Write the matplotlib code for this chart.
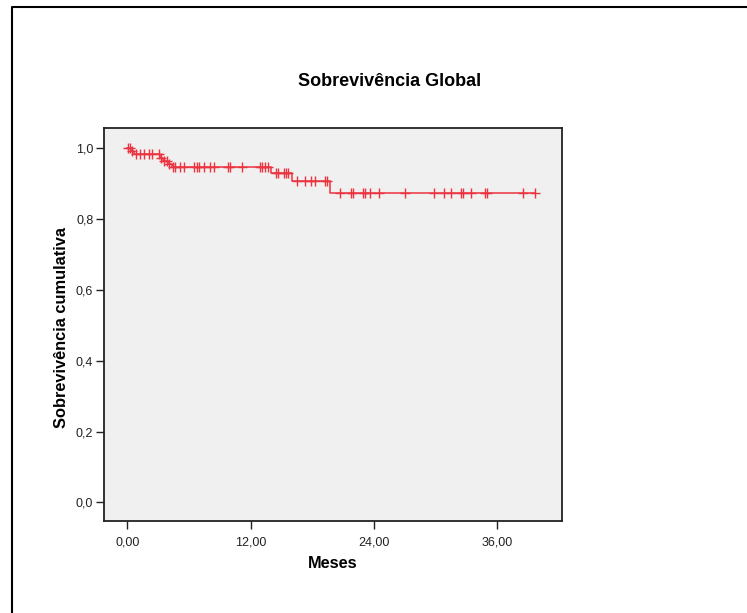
import numpy as np
import matplotlib
matplotlib.use('Agg')
import matplotlib.pyplot as plt
from matplotlib.lines import Line2D

plt.rcParams['font.family'] = ['Liberation Sans', 'DejaVu Sans']

# %% Data (Kaplan-Meier, global survival)
# times where the survival drops, and the level reached after each drop
event_times = [0.0, 0.43, 0.65, 3.15, 3.47, 3.96, 4.35, 13.95, 15.99, 19.68]
surv_levels = [1.0, 0.991, 0.982, 0.973, 0.964, 0.955, 0.946, 0.931, 0.908, 0.872]
last_time = 39.62

# censored observations (months)
censor_times = [0.1, 0.25, 0.5,
                0.8, 1.2, 1.6, 2.1, 2.4, 3.05,
                3.3, 3.6, 3.85, 4.1,
                4.45, 4.6, 5.16, 5.48, 6.45, 6.78, 6.94, 7.42, 8.07, 8.39,
                9.84, 10.0, 11.14, 12.92, 13.14, 13.4, 13.73,
                14.5, 14.7, 15.2, 15.4, 15.6,
                16.5, 17.3, 17.9, 18.3, 19.2, 19.45,
                20.68, 21.72, 21.91, 22.9, 23.1, 23.59, 24.46, 27.05,
                29.88, 30.8, 31.5, 32.48, 32.7, 33.4, 34.75, 34.98,
                38.45, 39.62]

xticks = [0, 12, 24, 36]
xtick_labels = ['0,00', '12,00', '24,00', '36,00']
yticks = [0.0, 0.2, 0.4, 0.6, 0.8, 1.0]
ytick_labels = ['0,0', '0,2', '0,4', '0,6', '0,8', '1,0']

title = 'Sobrevivência Global'
xlabel = 'Meses'
ylabel = 'Sobrevivência cumulativa'

# %% Figure
W, H = 747, 613
fig = plt.figure(figsize=(W / 100, H / 100), dpi=100)
fig.patch.set_facecolor('white')

ax_l, ax_r, ax_t, ax_b = 103.5, 562.0, 127.7, 521.2
ax = fig.add_axes([ax_l / W, 1 - ax_b / H, (ax_r - ax_l) / W, (ax_b - ax_t) / H])
ax.set_facecolor('#F0F0F0')

red = '#EC3340'
xs = np.array(event_times + [last_time])
ys = np.array(surv_levels + [surv_levels[-1]])
ax.step(xs, ys, where='post', color=red, lw=1.1, zorder=3)

ct = np.array(censor_times)
idx = np.searchsorted(np.array(event_times), ct, side='right') - 1
cy = np.array(surv_levels)[idx]
ax.plot(ct, cy, linestyle='none', marker='+', markersize=7, markeredgewidth=1.0,
        color=red, zorder=4)

ax.set_xlim(-2.32, 42.29)
ax.set_ylim(-0.053, 1.0576)
ax.set_xticks(xticks)
ax.set_xticklabels(xtick_labels)
ax.set_yticks(yticks)
ax.set_yticklabels(ytick_labels)

ax.tick_params(axis='both', direction='out', length=5.5, width=1.0,
               color='#222222', labelsize=9, labelcolor='#222222')
ax.tick_params(axis='x', pad=5.5)
ax.tick_params(axis='y', pad=1.8)
for sp in ax.spines.values():
    sp.set_linewidth(1.3)
    sp.set_color('#222222')

fig.text(390 / W, 1 - 82 / H, title, ha='center', va='center',
         fontsize=13, fontweight='bold')
fig.text(332.8 / W, 1 - 563 / H, xlabel, ha='center', va='center',
         fontsize=11.8, fontweight='bold')
fig.text(62 / W, 1 - 327 / H, ylabel, ha='center', va='center', rotation=90,
         fontsize=11.8, fontweight='bold')

# outer chart frame (only top and left edges are visible)
fx, fy = 11.7 / W, 1 - 6.7 / H
fig.add_artist(Line2D([fx, fx, 1.0], [0.0, fy, fy], transform=fig.transFigure,
                      color='black', lw=1.5))

fig.savefig('out.png', dpi=100)
